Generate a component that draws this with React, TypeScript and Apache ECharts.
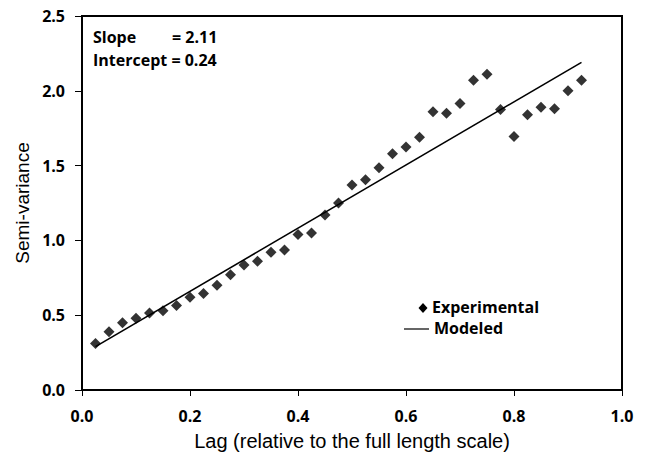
import React, { useEffect, useRef } from "react";
import * as echarts from "echarts";

const lagValues = [
  0.025, 0.05, 0.075, 0.1, 0.125, 0.15, 0.175, 0.2, 0.225, 0.25, 0.275, 0.3, 0.325,
  0.35, 0.375, 0.4, 0.425, 0.45, 0.475, 0.5, 0.525, 0.55, 0.575, 0.6, 0.625, 0.65,
  0.675, 0.7, 0.725, 0.75, 0.775, 0.8, 0.825, 0.85, 0.875, 0.9, 0.925,
];
const experimental = [
  0.31, 0.39, 0.45, 0.48, 0.515, 0.53, 0.565, 0.62, 0.645, 0.7, 0.77, 0.835, 0.86,
  0.92, 0.935, 1.04, 1.05, 1.17, 1.25, 1.37, 1.405, 1.485, 1.58, 1.625, 1.69, 1.86,
  1.85, 1.915, 2.07, 2.11, 1.875, 1.695, 1.84, 1.89, 1.88, 2.0, 2.07,
];
const modeledLag = [0.025, 0.925];
const modeledValues = [0.29, 2.19];
const xTicks = ["0.0", "0.2", "0.4", "0.6", "0.8", "1.0"];
const yTicks = ["0.0", "0.5", "1.0", "1.5", "2.0", "2.5"];

export default function App() {
  const ref = useRef<HTMLDivElement>(null);
  useEffect(() => {
    const chart = echarts.init(ref.current!, null, { renderer: "svg" });
    const tickFont = {
      fontFamily: "Open Sans",
      fontWeight: "bold" as const,
      fontSize: 16,
      color: "#000",
    };
    chart.setOption({
      animation: false,
      backgroundColor: "#fff",
      grid: { left: 82, right: 25, top: 16, bottom: 62, show: true, borderColor: "#000", borderWidth: 2 },
      xAxis: {
        type: "value",
        min: 0,
        max: 1,
        interval: 0.2,
        name: "Lag (relative to the full length scale)",
        nameLocation: "middle",
        nameGap: 41,
        nameTextStyle: { fontFamily: "Liberation Sans", fontSize: 20, color: "#000" },
        axisLine: { show: true, lineStyle: { color: "#000", width: 2 } },
        axisTick: { show: true, inside: false, length: 6, lineStyle: { color: "#000", width: 1 } },
        axisLabel: { ...tickFont, margin: 18, formatter: (v: number) => xTicks[Math.round(v / 0.2)] ?? "" },
        splitLine: { show: false },
      },
      yAxis: {
        type: "value",
        min: 0,
        max: 2.5,
        interval: 0.5,
        name: "Semi-variance",
        nameLocation: "middle",
        nameGap: 50,
        nameMoveOverlap: false,
        nameRotate: 90,
        nameTextStyle: { fontFamily: "Liberation Sans", fontSize: 19, color: "#000" },
        axisLine: { show: true, lineStyle: { color: "#000", width: 2 } },
        axisTick: { show: true, inside: false, length: 7, lineStyle: { color: "#000", width: 1 } },
        axisLabel: { ...tickFont, margin: 17, formatter: (v: number) => yTicks[Math.round(v / 0.5)] ?? "" },
        splitLine: { show: false },
      },
      series: [
        {
          name: "Modeled",
          type: "line",
          data: modeledLag.map((x, i) => [x, modeledValues[i]]),
          showSymbol: false,
          symbol: "none",
          lineStyle: { color: "#000", width: 1.6 },
          z: 2,
        },
        {
          name: "Experimental",
          type: "scatter",
          data: lagValues.map((x, i) => [x, experimental[i]]),
          symbol: "diamond",
          symbolSize: [11, 11],
          itemStyle: { color: "#000" },
          z: 3,
        },
      ],
      graphic: [
        { type: "text", left: 93, top: 29, style: { text: "Slope", font: "bold 16px 'Open Sans'", fill: "#000" } },
        { type: "text", left: 172, top: 29, style: { text: "= 2.11", font: "bold 16px 'Open Sans'", fill: "#000" } },
        { type: "text", left: 93, top: 52, style: { text: "Intercept = 0.24", font: "bold 16px 'Open Sans'", fill: "#000" } },
        { type: "polygon", shape: { points: [[423, 303], [427.5, 308], [423, 313], [418.5, 308]] }, style: { fill: "#000" } },
        { type: "text", left: 432, top: 299, style: { text: "Experimental", font: "bold 16px 'Open Sans'", fill: "#000" } },
        { type: "line", shape: { x1: 404, y1: 329, x2: 429, y2: 329 }, style: { stroke: "#000", lineWidth: 1.2 } },
        { type: "text", left: 434, top: 320, style: { text: "Modeled", font: "bold 16px 'Open Sans'", fill: "#000" } },
      ],
    });
    return () => chart.dispose();
  }, []);
  return <div ref={ref} style={{ position: "fixed", left: 0, top: 0, width: 647, height: 456 }} />;
}
